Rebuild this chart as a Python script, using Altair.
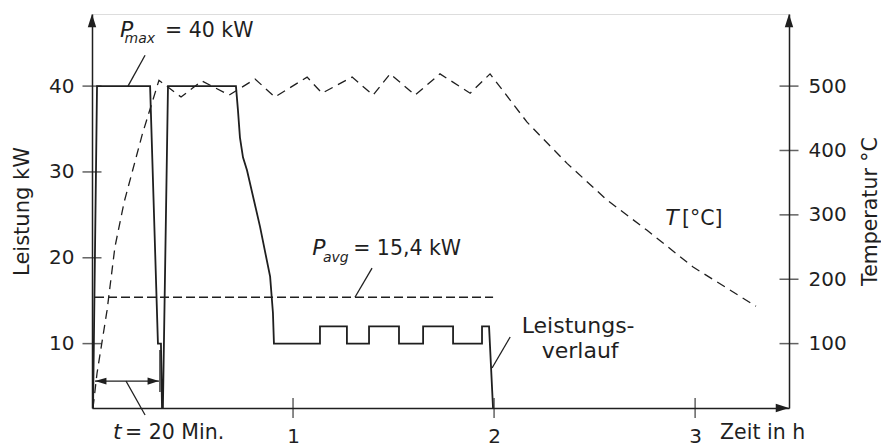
import altair as alt
import pandas as pd

# ---------------- data ----------------
# Leistungsverlauf: time in h, power in kW
power_t = [0.004, 0.025, 0.289, 0.328, 0.343, 0.350, 0.351, 0.378, 0.716, 0.726,
           0.736, 0.751, 0.771, 0.836, 0.886, 0.900, 0.905, 1.134, 1.134, 1.268,
           1.268, 1.378, 1.378, 1.527, 1.527, 1.647, 1.647, 1.796, 1.796, 1.940,
           1.940, 1.975, 2.000]
power_kw = [0, 40, 40, 10, 10, 0, 0, 40, 40, 37.2,
            34, 31.7, 30.2, 23.6, 17.8, 13.6, 10, 10, 12, 12,
            10, 10, 12, 12, 10, 10, 12, 12, 10, 10,
            12, 12, 0]

# Temperature curve: time in h, temperature in degC
temp_t = [0.005, 0.025, 0.075, 0.114, 0.160, 0.250, 0.333, 0.443, 0.547, 0.682,
          0.811, 0.910, 1.070, 1.144, 1.294, 1.398, 1.483, 1.607, 1.731, 1.881,
          1.980, 2.164, 2.363, 2.562, 2.761, 2.990, 3.303]
temp_c = [0, 54, 152, 250, 320, 425, 509, 483, 508, 486,
          511, 483, 514, 489, 514, 486, 519, 486, 519, 489,
          519, 444, 380, 323, 276, 219, 158]

# average power
p_avg = 15.4
avg_t = [0.015, 1.995]

# axis ticks
x_ticks = [1, 2, 3]
kw_ticks = [10, 20, 30, 40]
temp_ticks = [100, 200, 300, 400, 500]

# scale domains (the two y axes are aligned: 40 kW <-> 500 degC, 10 kW <-> 100 degC)
x_domain = [0, 3.467]
kw_domain = [2.5, 48.4]
temp_domain = [0, 612]

# annotation texts
ann_normal = ["= 40 kW", "= 15,4 kW", "[°C]", "= 20 Min.", "Zeit in h"]
ann_normal_t = [0.363, 1.299, 2.935, 0.164, 3.124]
ann_normal_v = [45.7, 20.3, 23.8, -1.1, -1.1]

ann_italic = ["P", "P", "T", "t"]
ann_italic_t = [0.139, 1.095, 2.851, 0.104]
ann_italic_v = [45.7, 20.3, 23.8, -1.1]

ann_sub = ["max", "avg"]
ann_sub_t = [0.162, 1.149]
ann_sub_v = [45.0, 19.5]

ann_center = ["Leistungs-", "verlauf"]
ann_center_t = [2.418, 2.428]
ann_center_v = [11.23, 8.32]

# leader / dimension lines (t, kW) -> (t2, kW2)
lead_t = [0.264, 1.393, 2.080, 0.169, 0.338, 0.015]
lead_v = [43.6, 18.8, 10.77, 5.64, 4.36, 5.64]
lead_t2 = [0.179, 1.308, 1.990, 0.264, 0.338, 0.333]
lead_v2 = [40.0, 15.4, 7.16, 1.68, 9.25, 5.64]

# ---------------- styling ----------------
INK = "#1f1f1f"
FONT = "DejaVu Sans"

x_scale = alt.Scale(domain=x_domain, nice=False, zero=False)
kw_scale = alt.Scale(domain=kw_domain, nice=False, zero=False)
t_scale = alt.Scale(domain=temp_domain, nice=False, zero=False)

x_axis = alt.Axis(values=x_ticks, format="d", ticks=False, grid=False,
                  domainColor=INK, domainWidth=1.5, labelFontSize=20,
                  labelColor=INK, labelPadding=18, labelFont=FONT, title=None)
kw_axis = alt.Axis(values=kw_ticks, orient="left", ticks=False, grid=False,
                   domainColor=INK, domainWidth=1.5, labelFontSize=20,
                   labelColor=INK, labelPadding=18, labelFont=FONT,
                   title="Leistung kW", titleFontSize=21, titleFont=FONT,
                   titleFontWeight="normal", titleColor=INK, titlePadding=16)
t_axis = alt.Axis(values=temp_ticks, orient="right", ticks=False, grid=False,
                  domainColor=INK, domainWidth=1.5, labelFontSize=20,
                  labelColor=INK, labelPadding=19, labelFont=FONT,
                  title="Temperatur °C", titleFontSize=20.5, titleFont=FONT,
                  titleFontWeight="normal", titleColor=INK, titleAngle=270,
                  titleBaseline="top", titlePadding=14)


def X(f="t"):
    return alt.X(f"{f}:Q", scale=x_scale, axis=x_axis, title=None)


def YK(f="v"):
    return alt.Y(f"{f}:Q", scale=kw_scale, axis=kw_axis, title="Leistung kW")


def YT(f="v"):
    return alt.Y(f"{f}:Q", scale=t_scale, axis=t_axis, title="Temperatur °C")


# ---------------- data frames ----------------
power_df = pd.DataFrame({"t": power_t, "v": power_kw, "i": range(len(power_t))})
temp_df = pd.DataFrame({"t": temp_t, "v": temp_c, "i": range(len(temp_t))})
avg_df = pd.DataFrame({"t": avg_t, "v": [p_avg] * len(avg_t)})
kw_tick_df = pd.DataFrame({"t": [x_domain[0]] * len(kw_ticks), "v": kw_ticks})
x_tick_df = pd.DataFrame({"t": x_ticks, "v": [kw_domain[0]] * len(x_ticks)})
t_tick_df = pd.DataFrame({"t": [x_domain[1]] * len(temp_ticks), "v": temp_ticks})
lead_df = pd.DataFrame({"t": lead_t, "v": lead_v, "t2": lead_t2, "v2": lead_v2})

UP = "M0,0L-0.32,1L0.32,1Z"
RIGHT = "M0,0L-1,-0.32L-1,0.32Z"
LEFT = "M0,0L1,-0.3L1,0.3Z"
arrow_up_df = pd.DataFrame({"t": [x_domain[0], x_domain[1]], "v": [kw_domain[1]] * 2})
arrow_axis_df = pd.DataFrame({"t": [x_domain[1]], "v": [kw_domain[0]]})
arrow_dim_r_df = pd.DataFrame({"t": [lead_t2[5]], "v": [lead_v2[5]]})
arrow_dim_l_df = pd.DataFrame({"t": [lead_t[5]], "v": [lead_v[5]]})


def text_df(labels, ts, vs):
    return pd.DataFrame({"t": ts, "v": vs, "label": labels})


# ---------------- left (power) layers ----------------
power_line = alt.Chart(power_df).mark_line(color=INK, strokeWidth=1.8, clip=True,
                                           strokeJoin="miter").encode(
    x=X(), y=YK(), order=alt.Order("i:Q"))

avg_line = alt.Chart(avg_df).mark_line(color=INK, strokeWidth=1.3,
                                       strokeDash=[9, 4]).encode(x=X(), y=YK())

kw_ticks_m = alt.Chart(kw_tick_df).mark_tick(orient="horizontal", size=19,
                                             thickness=1.5, color=INK).encode(
    x=X(), y=YK())
x_ticks_m = alt.Chart(x_tick_df).mark_tick(orient="vertical", size=20,
                                           thickness=1.5, color=INK).encode(
    x=X(), y=YK())

leaders = alt.Chart(lead_df).mark_rule(color=INK, strokeWidth=1.3).encode(
    x=X(), y=YK(), x2="t2:Q", y2="v2:Q")

arrows_up = alt.Chart(arrow_up_df).mark_point(shape=UP, filled=True, size=700,
                                              color=INK, opacity=1).encode(
    x=X(), y=YK())
arrows_right_axis = alt.Chart(arrow_axis_df).mark_point(
    shape=RIGHT, filled=True, size=700, color=INK, opacity=1).encode(x=X(), y=YK())
arrows_dim_r = alt.Chart(arrow_dim_r_df).mark_point(
    shape=RIGHT, filled=True, size=520, color=INK, opacity=1).encode(x=X(), y=YK())
arrows_dim_l = alt.Chart(arrow_dim_l_df).mark_point(
    shape=LEFT, filled=True, size=520, color=INK, opacity=1).encode(x=X(), y=YK())

txt_normal = alt.Chart(text_df(ann_normal, ann_normal_t, ann_normal_v)).mark_text(
    align="left", baseline="alphabetic", font=FONT, fontSize=20.5, color=INK).encode(
    x=X(), y=YK(), text="label:N")
txt_italic = alt.Chart(text_df(ann_italic, ann_italic_t, ann_italic_v)).mark_text(
    align="left", baseline="alphabetic", font=FONT, fontSize=22, fontStyle="italic",
    color=INK).encode(x=X(), y=YK(), text="label:N")
txt_sub = alt.Chart(text_df(ann_sub, ann_sub_t, ann_sub_v)).mark_text(
    align="left", baseline="alphabetic", font=FONT, fontSize=14, fontStyle="italic",
    color=INK).encode(x=X(), y=YK(), text="label:N")
txt_center = alt.Chart(text_df(ann_center, ann_center_t, ann_center_v)).mark_text(
    align="center", baseline="alphabetic", font=FONT, fontSize=22, color=INK).encode(
    x=X(), y=YK(), text="label:N")

left = alt.layer(power_line, avg_line, kw_ticks_m, x_ticks_m, leaders, arrows_up,
                 arrows_right_axis, arrows_dim_r, arrows_dim_l, txt_normal,
                 txt_italic, txt_sub, txt_center)

# ---------------- right (temperature) layers ----------------
temp_line = alt.Chart(temp_df).mark_line(color=INK, strokeWidth=1.3,
                                         strokeDash=[9, 6]).encode(
    x=X(), y=YT(), order=alt.Order("i:Q"))
t_ticks_m = alt.Chart(t_tick_df).mark_tick(orient="horizontal", size=19,
                                           thickness=1.5, color=INK).encode(
    x=X(), y=YT())

right = alt.layer(temp_line, t_ticks_m)

chart = alt.layer(left, right).resolve_scale(y="independent").properties(
    width=697, height=394,
    autosize=alt.AutoSizeParams(type="none"),
    padding={"left": 84, "top": 6, "right": 92, "bottom": 37},
).configure_view(stroke=None).configure(font=FONT, background="white")

chart.save("out.html", embed_options={"renderer": "svg", "actions": False})
